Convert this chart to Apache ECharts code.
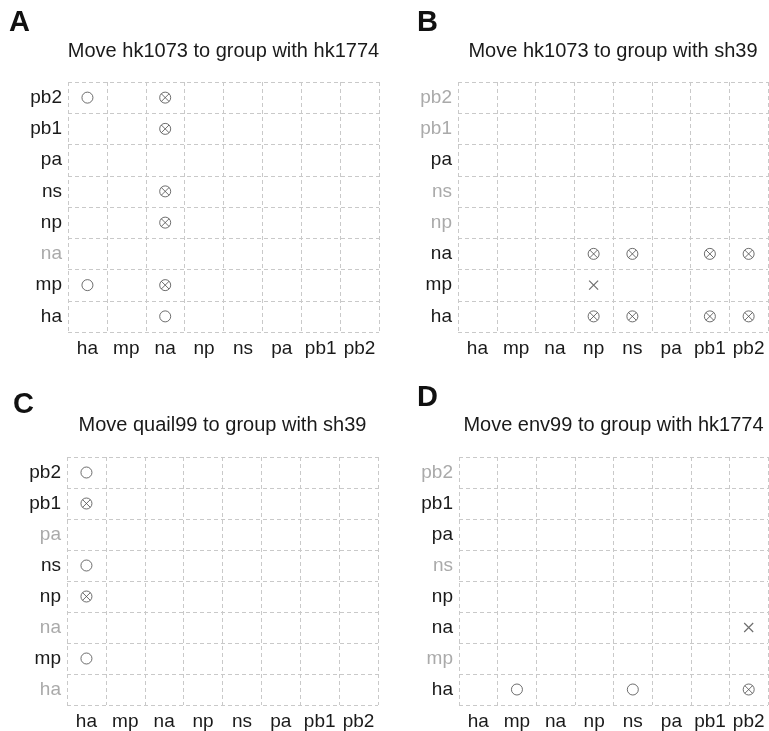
<!DOCTYPE html>
<html>
<head>
<meta charset="utf-8">
<script src="https://cdn.jsdelivr.net/npm/echarts@6/dist/echarts.min.js"></script>
<style>
html,body{margin:0;padding:0;background:#fff;}
#main{width:769px;height:731px;}
</style>
</head>
<body>
<div id="main"></div>
<script>
// ---- data ----
const categories = ['ha', 'mp', 'na', 'np', 'ns', 'pa', 'pb1', 'pb2'];
const panelLetters = ['A', 'B', 'C', 'D'];
const panelTitles = [
  'Move hk1073 to group with hk1774',
  'Move hk1073 to group with sh39',
  'Move quail99 to group with sh39',
  'Move env99 to group with hk1774'
];
// y-axis labels drawn in grey, per panel
const grayRowsA = ['na'];
const grayRowsB = ['pb2', 'pb1', 'ns', 'np'];
const grayRowsC = ['pa', 'na', 'ha'];
const grayRowsD = ['pb2', 'ns', 'mp'];
// points as [x category, y category]
const circlesA = [['ha', 'pb2'], ['ha', 'mp'], ['na', 'ha']];
const otimesA = [['na', 'pb2'], ['na', 'pb1'], ['na', 'ns'], ['na', 'np'], ['na', 'mp']];
const crossesA = [];
const circlesB = [];
const otimesB = [['np', 'na'], ['ns', 'na'], ['pb1', 'na'], ['pb2', 'na'], ['np', 'ha'], ['ns', 'ha'], ['pb1', 'ha'], ['pb2', 'ha']];
const crossesB = [['np', 'mp']];
const circlesC = [['ha', 'pb2'], ['ha', 'ns'], ['ha', 'mp']];
const otimesC = [['ha', 'pb1'], ['ha', 'np']];
const crossesC = [];
const circlesD = [['mp', 'ha'], ['ns', 'ha']];
const otimesD = [['pb2', 'ha']];
const crossesD = [['pb2', 'na']];

const panels = [
  { gray: grayRowsA, circles: circlesA, otimes: otimesA, crosses: crossesA },
  { gray: grayRowsB, circles: circlesB, otimes: otimesB, crosses: crossesB },
  { gray: grayRowsC, circles: circlesC, otimes: otimesC, crosses: crossesC },
  { gray: grayRowsD, circles: circlesD, otimes: otimesD, crosses: crossesD }
];

// ---- layout ----
const grids = [
  { left: 68, top: 82, width: 311, height: 250 },
  { left: 458, top: 82, width: 310, height: 250 },
  { left: 67, top: 457, width: 311, height: 249 },
  { left: 459, top: 457, width: 309, height: 249 }
];
const letterPos = [[9, 23], [417, 23], [13, 405], [417, 398]];
const titleY = [51, 51, 425, 425];

const FONT = '"Liberation Sans", Arial, Helvetica, sans-serif';
const markColor = '#4a4a4a';
const gridColor = '#c9c9c9';

const otimesPath = 'path://M0,10A10,10 0 1,1 20,10A10,10 0 1,1 0,10Z M2.93,2.93L17.07,17.07 M17.07,2.93L2.93,17.07';
const crossPath = 'path://M0,0L10,10 M10,0L0,10';

const chart = echarts.init(document.getElementById('main'), null, { renderer: 'canvas' });

const xAxis = [], yAxis = [], series = [], graphic = [];
panels.forEach((p, i) => {
  const splitLine = { show: true, lineStyle: { color: gridColor, type: [4, 3], width: 1 } };
  xAxis.push({
    type: 'category', gridIndex: i, data: categories, boundaryGap: true,
    axisLine: { show: false }, axisTick: { show: false },
    axisLabel: { interval: 0, margin: 7, fontSize: 19, fontFamily: FONT, color: '#1a1a1a' },
    splitLine: splitLine
  });
  yAxis.push({
    type: 'category', gridIndex: i, data: categories, boundaryGap: true,
    axisLine: { show: false }, axisTick: { show: false },
    axisLabel: {
      interval: 0, margin: 6, fontSize: 19, fontFamily: FONT,
      color: (v) => p.gray.indexOf(v) >= 0 ? '#aaaaaa' : '#1a1a1a'
    },
    splitLine: splitLine
  });
  series.push({
    type: 'scatter', xAxisIndex: i, yAxisIndex: i, data: p.circles,
    symbol: 'circle', symbolSize: 11,
    itemStyle: { color: '#ffffff', borderColor: markColor, borderWidth: 1 },
    silent: true
  });
  series.push({
    type: 'scatter', xAxisIndex: i, yAxisIndex: i, data: p.otimes,
    symbol: otimesPath, symbolSize: 11,
    itemStyle: { color: 'none', borderColor: markColor, borderWidth: 1 },
    silent: true
  });
  series.push({
    type: 'scatter', xAxisIndex: i, yAxisIndex: i, data: p.crosses,
    symbol: crossPath, symbolSize: 9,
    itemStyle: { color: 'none', borderColor: markColor, borderWidth: 1.2 },
    silent: true
  });
  graphic.push({
    type: 'text', x: letterPos[i][0], y: letterPos[i][1],
    style: { text: panelLetters[i], font: 'bold 29px ' + FONT, fill: '#111', textAlign: 'left', textVerticalAlign: 'middle', align: 'left', verticalAlign: 'middle' }
  });
  graphic.push({
    type: 'text', x: grids[i].left + grids[i].width / 2, y: titleY[i],
    style: { text: panelTitles[i], font: '20px ' + FONT, fill: '#1a1a1a', textAlign: 'center', textVerticalAlign: 'middle', align: 'center', verticalAlign: 'middle' }
  });
});

chart.setOption({
  animation: false,
  backgroundColor: '#ffffff',
  grid: grids.map(g => Object.assign({ show: false }, g)),
  xAxis: xAxis,
  yAxis: yAxis,
  series: series,
  graphic: graphic
});
</script>
</body>
</html>
